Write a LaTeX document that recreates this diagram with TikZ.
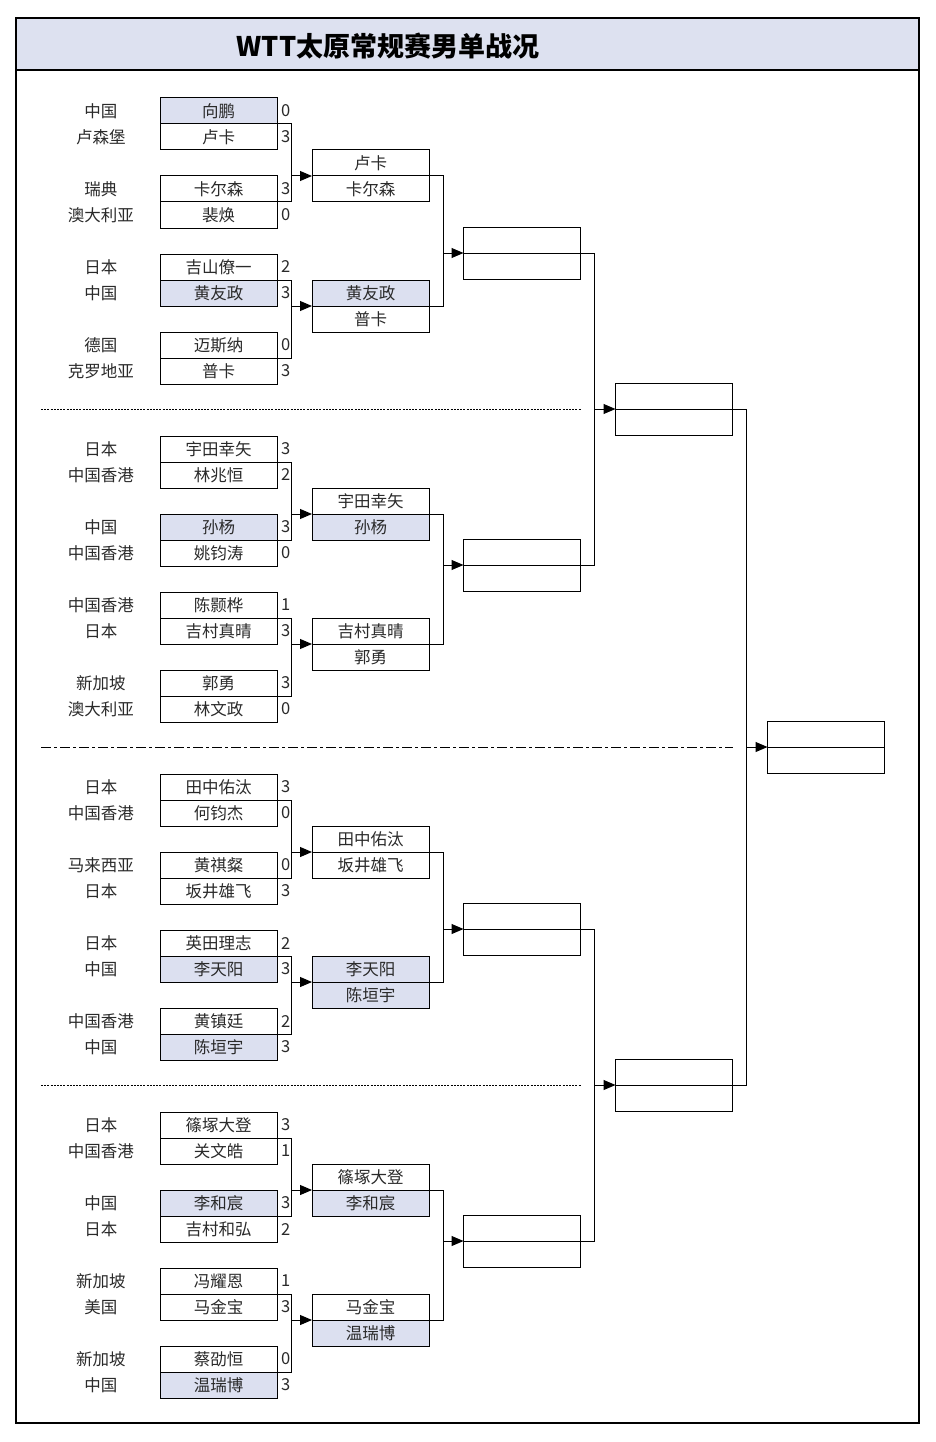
\documentclass[tikz,border=0pt]{standalone}
\usepackage{fontspec}
\usepackage{xcolor}
\usepackage{tikz}
\usetikzlibrary{arrows.meta, positioning}
\setmainfont{Noto Sans CJK SC}
\definecolor{bandfill}{HTML}{DDE1F0}
\definecolor{cnfill}{HTML}{DCE0F0}
\definecolor{ink}{HTML}{2A2A2A}
\tikzset{
  player/.style={
    rectangle, draw=black, line width=1pt,
    minimum width=117pt, minimum height=26pt,
    inner sep=0pt, outer sep=0pt, text=ink,
    font=\fontsize{16.5}{18}\selectfont, label distance=0pt,
  },
  cn/.style={fill=cnfill},
  country/.style={
    text width=70pt, align=center, inner sep=0pt, xshift=-24pt,
    text=ink, font=\fontsize{16.5}{18}\selectfont,
  },
  score/.style={inner sep=0pt, xshift=4pt, text=ink, font=\fontsize{16.5}{18}\selectfont},
  joinline/.style={line width=1pt, black},
  arrow/.style={joinline, -{Triangle[length=12pt,width=10pt]}},
  frame/.style={line width=2pt, black},
  sepdots/.style={line width=0.8pt, dash pattern=on 2pt off 1.2pt},
  sepdashdot/.style={line width=0.8pt, dash pattern=on 10pt off 3pt on 3pt off 3pt},
  heading/.style={font=\fontsize{27}{30}\selectfont\bfseries, text=black},
}

\begin{document}
\begin{tikzpicture}[x=1pt,y=-1pt]
  \useasboundingbox (0,0) rectangle (936,1442);
  \fill[white] (0,0) rectangle (936,1442);
  % title band
  \fill[bandfill] (16,18) rectangle (919,70);
  \draw[frame] (16,70) -- (919,70);
  \draw[frame] (16,18) rectangle (919,1423);
  \node[heading] (head) at (388,46) {WTT太原常规赛男单战况};

  % first round
  \node[player,cn,label={[country]left:中国},label={[score]right:0}] (m1t) at (218.5,111) {向鹏};
  \node[player,below=0pt of m1t,label={[country]left:卢森堡},label={[score]right:3}] (m1b) {卢卡};
  \node[player,label={[country]left:瑞典},label={[score]right:3}] (m2t) at (218.5,189) {卡尔森};
  \node[player,below=0pt of m2t,label={[country]left:澳大利亚},label={[score]right:0}] (m2b) {裴焕};
  \node[player,label={[country]left:日本},label={[score]right:2}] (m3t) at (218.5,267) {吉山僚一};
  \node[player,cn,below=0pt of m3t,label={[country]left:中国},label={[score]right:3}] (m3b) {黄友政};
  \node[player,label={[country]left:德国},label={[score]right:0}] (m4t) at (218.5,345) {迈斯纳};
  \node[player,below=0pt of m4t,label={[country]left:克罗地亚},label={[score]right:3}] (m4b) {普卡};

  \node[player,label={[country]left:日本},label={[score]right:3}] (m5t) at (218.5,449) {宇田幸矢};
  \node[player,below=0pt of m5t,label={[country]left:中国香港},label={[score]right:2}] (m5b) {林兆恒};
  \node[player,cn,label={[country]left:中国},label={[score]right:3}] (m6t) at (218.5,527) {孙杨};
  \node[player,below=0pt of m6t,label={[country]left:中国香港},label={[score]right:0}] (m6b) {姚钧涛};
  \node[player,label={[country]left:中国香港},label={[score]right:1}] (m7t) at (218.5,605) {陈颢桦};
  \node[player,below=0pt of m7t,label={[country]left:日本},label={[score]right:3}] (m7b) {吉村真晴};
  \node[player,label={[country]left:新加坡},label={[score]right:3}] (m8t) at (218.5,683) {郭勇};
  \node[player,below=0pt of m8t,label={[country]left:澳大利亚},label={[score]right:0}] (m8b) {林文政};

  \node[player,label={[country]left:日本},label={[score]right:3}] (m9t) at (218.5,787) {田中佑汰};
  \node[player,below=0pt of m9t,label={[country]left:中国香港},label={[score]right:0}] (m9b) {何钧杰};
  \node[player,label={[country]left:马来西亚},label={[score]right:0}] (m10t) at (218.5,865) {黄祺粲};
  \node[player,below=0pt of m10t,label={[country]left:日本},label={[score]right:3}] (m10b) {坂井雄飞};
  \node[player,label={[country]left:日本},label={[score]right:2}] (m11t) at (218.5,943) {英田理志};
  \node[player,cn,below=0pt of m11t,label={[country]left:中国},label={[score]right:3}] (m11b) {李天阳};
  \node[player,label={[country]left:中国香港},label={[score]right:2}] (m12t) at (218.5,1021) {黄镇廷};
  \node[player,cn,below=0pt of m12t,label={[country]left:中国},label={[score]right:3}] (m12b) {陈垣宇};

  \node[player,label={[country]left:日本},label={[score]right:3}] (m13t) at (218.5,1125) {篠塚大登};
  \node[player,below=0pt of m13t,label={[country]left:中国香港},label={[score]right:1}] (m13b) {关文皓};
  \node[player,cn,label={[country]left:中国},label={[score]right:3}] (m14t) at (218.5,1203) {李和宸};
  \node[player,below=0pt of m14t,label={[country]left:日本},label={[score]right:2}] (m14b) {吉村和弘};
  \node[player,label={[country]left:新加坡},label={[score]right:1}] (m15t) at (218.5,1281) {冯耀恩};
  \node[player,below=0pt of m15t,label={[country]left:美国},label={[score]right:3}] (m15b) {马金宝};
  \node[player,label={[country]left:新加坡},label={[score]right:0}] (m16t) at (218.5,1359) {蔡劭恒};
  \node[player,cn,below=0pt of m16t,label={[country]left:中国},label={[score]right:3}] (m16b) {温瑞博};

  % second round
  \node[player] (e1t) at (370.5,163) {卢卡};
  \node[player,below=0pt of e1t] (e1b) {卡尔森};
  \node[player,cn] (e2t) at (370.5,293) {黄友政};
  \node[player,below=0pt of e2t] (e2b) {普卡};
  \node[player] (e3t) at (370.5,501) {宇田幸矢};
  \node[player,cn,below=0pt of e3t] (e3b) {孙杨};
  \node[player] (e4t) at (370.5,631) {吉村真晴};
  \node[player,below=0pt of e4t] (e4b) {郭勇};
  \node[player] (e5t) at (370.5,839) {田中佑汰};
  \node[player,below=0pt of e5t] (e5b) {坂井雄飞};
  \node[player,cn] (e6t) at (370.5,969) {李天阳};
  \node[player,cn,below=0pt of e6t] (e6b) {陈垣宇};
  \node[player] (e7t) at (370.5,1177) {篠塚大登};
  \node[player,cn,below=0pt of e7t] (e7b) {李和宸};
  \node[player] (e8t) at (370.5,1307) {马金宝};
  \node[player,cn,below=0pt of e8t] (e8b) {温瑞博};

  % quarter finals, semi finals, final (still empty)
  \node[player] (q1t) at (522,240) {};
  \node[player,below=0pt of q1t] (q1b) {};
  \node[player] (q2t) at (522,552) {};
  \node[player,below=0pt of q2t] (q2b) {};
  \node[player] (q3t) at (522,916) {};
  \node[player,below=0pt of q3t] (q3b) {};
  \node[player] (q4t) at (522,1228) {};
  \node[player,below=0pt of q4t] (q4b) {};
  \node[player] (s1t) at (674,396) {};
  \node[player,below=0pt of s1t] (s1b) {};
  \node[player] (s2t) at (674,1072) {};
  \node[player,below=0pt of s2t] (s2b) {};
  \node[player] (ft) at (826,734) {};
  \node[player,below=0pt of ft] (fb) {};

  % brackets into the second round
  \draw[joinline] (m1t.south east) -- ++(14,0) coordinate (j1) |- (m2t.south east);
  \draw[arrow] (j1 |- e1t.south west) -- (e1t.south west);
  \draw[joinline] (m3t.south east) -- ++(14,0) coordinate (j2) |- (m4t.south east);
  \draw[arrow] (j2 |- e2t.south west) -- (e2t.south west);
  \draw[joinline] (m5t.south east) -- ++(14,0) coordinate (j3) |- (m6t.south east);
  \draw[arrow] (j3 |- e3t.south west) -- (e3t.south west);
  \draw[joinline] (m7t.south east) -- ++(14,0) coordinate (j4) |- (m8t.south east);
  \draw[arrow] (j4 |- e4t.south west) -- (e4t.south west);
  \draw[joinline] (m9t.south east) -- ++(14,0) coordinate (j5) |- (m10t.south east);
  \draw[arrow] (j5 |- e5t.south west) -- (e5t.south west);
  \draw[joinline] (m11t.south east) -- ++(14,0) coordinate (j6) |- (m12t.south east);
  \draw[arrow] (j6 |- e6t.south west) -- (e6t.south west);
  \draw[joinline] (m13t.south east) -- ++(14,0) coordinate (j7) |- (m14t.south east);
  \draw[arrow] (j7 |- e7t.south west) -- (e7t.south west);
  \draw[joinline] (m15t.south east) -- ++(14,0) coordinate (j8) |- (m16t.south east);
  \draw[arrow] (j8 |- e8t.south west) -- (e8t.south west);

  % brackets into the quarter finals
  \draw[joinline] (e1t.south east) -- ++(14,0) coordinate (k1) |- (e2t.south east);
  \draw[arrow] (k1 |- q1t.south west) -- (q1t.south west);
  \draw[joinline] (e3t.south east) -- ++(14,0) coordinate (k2) |- (e4t.south east);
  \draw[arrow] (k2 |- q2t.south west) -- (q2t.south west);
  \draw[joinline] (e5t.south east) -- ++(14,0) coordinate (k3) |- (e6t.south east);
  \draw[arrow] (k3 |- q3t.south west) -- (q3t.south west);
  \draw[joinline] (e7t.south east) -- ++(14,0) coordinate (k4) |- (e8t.south east);
  \draw[arrow] (k4 |- q4t.south west) -- (q4t.south west);

  % semi finals and final
  \draw[joinline] (q1t.south east) -- ++(14,0) coordinate (h1) |- (q2t.south east);
  \draw[arrow] (h1 |- s1t.south west) -- (s1t.south west);
  \draw[joinline] (q3t.south east) -- ++(14,0) coordinate (h2) |- (q4t.south east);
  \draw[arrow] (h2 |- s2t.south west) -- (s2t.south west);
  \draw[joinline] (s1t.south east) -- ++(14,0) coordinate (g1) |- (s2t.south east);
  \draw[arrow] (g1 |- ft.south west) -- (ft.south west);

  % section separators
  \draw[sepdots] (41,409) -- (581,409);
  \draw[sepdashdot] (41,747) -- (733,747);
  \draw[sepdots] (41,1085) -- (581,1085);
\end{tikzpicture}
\end{document}
